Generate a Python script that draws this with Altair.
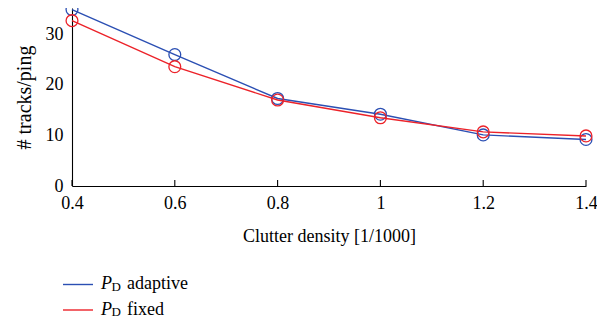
import altair as alt
import pandas as pd

# ---- data ----
density = [0.4, 0.6, 0.8, 1.0, 1.2, 1.4]
adaptive = [34.9, 26.0, 17.3, 14.2, 10.1, 9.2]
fixed = [32.7, 23.6, 17.0, 13.5, 10.7, 9.9]
series_names = ["adaptive", "fixed"]
series_colors = ["#2b4fb3", "#ec2229"]
x_ticks = [0.4, 0.6, 0.8, 1.0, 1.2, 1.4]
y_ticks = [0, 10, 20, 30]

FONT = "Liberation Serif"
W, H = 514, 178

df = pd.DataFrame({
    "density": density * 2,
    "tracks": adaptive + fixed,
    "series": [series_names[0]] * len(density) + [series_names[1]] * len(density),
})

xscale = alt.Scale(domain=[0.4, 1.4], nice=False, zero=False)
yscale = alt.Scale(domain=[0, 35.2], nice=False)
cscale = alt.Scale(domain=series_names, range=series_colors)

x = alt.X("density:Q", scale=xscale,
          axis=alt.Axis(values=x_ticks, format="~g", title="Clutter density [1/1000]",
                        ticks=False, grid=False, labelPadding=8, titlePadding=15,
                        labelFlush=False, domainColor="black", domainWidth=1.1))
y = alt.Y("tracks:Q", scale=yscale,
          axis=alt.Axis(values=y_ticks, title="# tracks/ping", ticks=False, grid=False,
                        labelPadding=9, titlePadding=11, titleFontSize=20,
                        domainColor="black", domainWidth=1.1))
color = alt.Color("series:N", scale=cscale, legend=None)

layers = []
for name in series_names:
    sub = alt.Chart(df).transform_filter(alt.datum.series == name)
    layers.append(sub.mark_line(strokeWidth=1.4).encode(x=x, y=y, color=color))
    layers.append(sub.mark_point(shape="circle", filled=False, size=140, strokeWidth=1.3,
                                 opacity=1).encode(x=x, y=y, color=color))

# inward x ticks
tick_df = pd.DataFrame({"density": x_ticks})
ticks = alt.Chart(tick_df).mark_rule(color="black", strokeWidth=1.1).encode(
    x=alt.X("density:Q", scale=xscale), y=alt.value(H), y2=alt.value(H - 6))
layers.append(ticks)

# manual legend with subscripted P_D
row_y = [276.5, 302]
for i, name in enumerate(series_names):
    one = alt.Chart(pd.DataFrame({"series": [name]}))
    ly = row_y[i]
    layers.append(one.mark_rule(strokeWidth=1.4).encode(
        x=alt.value(-9), x2=alt.value(21), y=alt.value(ly),
        color=alt.Color("series:N", scale=cscale, legend=None)))
    layers.append(one.mark_text(text="P", font=FONT, fontSize=18, fontStyle="italic",
                                align="left", baseline="alphabetic", color="black").encode(
        x=alt.value(29), y=alt.value(ly + 4.8)))
    layers.append(one.mark_text(text="D", font=FONT, fontSize=13,
                                align="left", baseline="alphabetic", color="black").encode(
        x=alt.value(39.5), y=alt.value(ly + 6.4)))
    layers.append(one.mark_text(font=FONT, fontSize=18, align="left",
                                baseline="alphabetic", color="black").encode(
        text="series:N", x=alt.value(55), y=alt.value(ly + 4.8)))

chart = alt.layer(*layers).properties(
    width=W, height=H,
    autosize=alt.AutoSizeParams(type="none"),
    padding={"left": 64, "top": 0, "right": 11, "bottom": 133},
).configure_view(stroke=None).configure_axis(
    labelFont=FONT, titleFont=FONT, labelFontSize=18, titleFontSize=18,
    labelColor="black", titleColor="black", titleFontWeight="normal",
)

chart.save("out.html", embed_options={"renderer": "svg", "actions": False})
